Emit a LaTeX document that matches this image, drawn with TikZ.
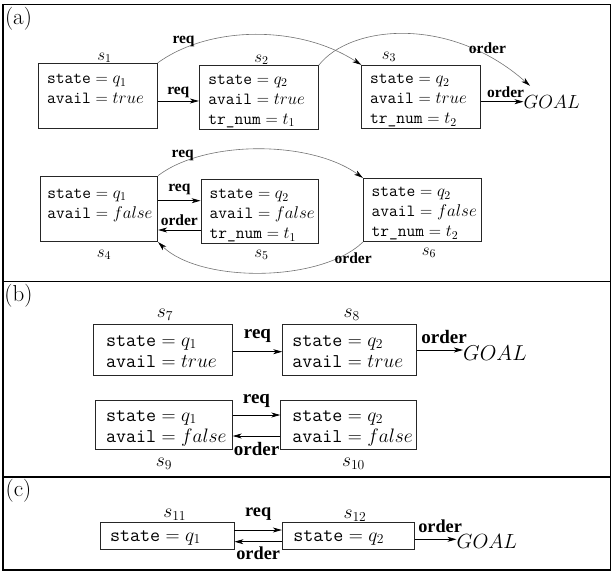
\RequirePackage{fix-cm}
\documentclass[tikz,border=0pt]{standalone}
\usepackage{fontspec}
\newfontfamily\lblfamily{Liberation Serif}
\usetikzlibrary{arrows.meta}
\newcommand{\tv}[1]{\hbox{\ttfamily #1}}
\newcommand{\cb}[4]{\parbox[c][#1][t]{#2}{\rule{0pt}{#3}#4}}
\tikzset{
  stbox/.style={draw=black!85, line width=0.8pt, inner sep=0pt, rectangle},
  fa/.style={font=\fontsize{17}{20}\selectfont},
  fb/.style={font=\fontsize{19.5}{21.6}\selectfont},
  arr/.style={line width=0.8pt, -{Stealth[length=9pt,width=5pt,inset=2.5pt]}},
  carr/.style={draw=black!55, line width=0.6pt, -{Stealth[length=9pt,width=5pt,inset=2.5pt,color=black]}},
  lbla/.style={font=\lblfamily\bfseries\fontsize{15.5}{18}\selectfont, inner sep=1pt},
  lblb/.style={font=\lblfamily\bfseries\fontsize{19}{22}\selectfont, inner sep=1pt},
  lblc/.style={font=\lblfamily\bfseries\fontsize{18.3}{21}\selectfont, inner sep=1pt},
  sname/.style={inner sep=0pt},
  frm/.style={line width=1.2pt},
  sec/.style={font=\fontsize{23}{27}\selectfont, inner sep=0pt},
  goal/.style={inner sep=0pt, anchor=west}
}
\begin{document}
\begin{tikzpicture}[x=1pt,y=-1pt]
\useasboundingbox (0,0) rectangle (612,572);
% frame
\draw[frm] (3,4.5) rectangle (610.5,570);
\draw[frm] (3,281.5) -- (610.5,281.5);
\draw[frm] (3,477) -- (610.5,477);
\node[sec] (la) at (18.5,19) {(a)};
\node[sec] (lb) at (18.5,296) {(b)};
\node[sec] (lc) at (18.5,491) {(c)};

% ---------- (a) ----------
\node[stbox, fa, minimum width=118.6pt, minimum height=65pt] (s1) at (98,95.8)
  {\cb{65pt}{101.6pt}{20.5pt}{\mbox{$\tv{state}=q_1$}\\\mbox{$\tv{avail}=true$}}};
\node[stbox, fa, minimum width=119pt, minimum height=63.3pt] (s2) at (258.8,97.35)
  {\cb{63.3pt}{101pt}{18.5pt}{\mbox{$\tv{state}=q_2$}\\\mbox{$\tv{avail}=true$}\\\mbox{$\tv{tr\_num}=t_1$}}};
\node[stbox, fa, minimum width=118.6pt, minimum height=62.7pt] (s3) at (421,96.65)
  {\cb{62.7pt}{101.6pt}{18.5pt}{\mbox{$\tv{state}=q_2$}\\\mbox{$\tv{avail}=true$}\\\mbox{$\tv{tr\_num}=t_2$}}};
\node[goal, font=\fontsize{19}{22}\selectfont] (ga) at (523.5,102) {$GOAL$};

\node[stbox, fa, minimum width=117.7pt, minimum height=65.7pt] (s4) at (98.85,208.85)
  {\cb{65.7pt}{103pt}{22pt}{\mbox{$\tv{state}=q_1$}\\\mbox{$\tv{avail}=false$}}};
\node[stbox, fa, minimum width=117pt, minimum height=64pt] (s5) at (259.5,211.3)
  {\cb{64pt}{100pt}{19.5pt}{\mbox{$\tv{state}=q_2$}\\\mbox{$\tv{avail}=false$}\\\mbox{$\tv{tr\_num}=t_1$}}};
\node[stbox, fa, minimum width=117.7pt, minimum height=63.4pt] (s6) at (422.15,210)
  {\cb{63.4pt}{101pt}{18.5pt}{\mbox{$\tv{state}=q_2$}\\\mbox{$\tv{avail}=false$}\\\mbox{$\tv{tr\_num}=t_2$}}};

\node[sname, fa] (n1) at (104.5,58) {$s_1$};
\node[sname, fa] (n2) at (261.5,60) {$s_2$};
\node[sname, fa] (n3) at (389,57) {$s_3$};
\node[sname, fa] (n4) at (104,255) {$s_4$};
\node[sname, fa] (n5) at (261.5,255) {$s_5$};
\node[sname, fa] (n6) at (429,252.7) {$s_6$};

\draw[arr] (s1.east |- 0,101) -- node[lbla, above=1.5pt] {req} (s2.west |- 0,101);
\draw[arr] (s3.east |- 0,101.7) -- node[lbla, above=2.5pt, xshift=3.5pt] {order} (ga.west |- 0,101.7);
\draw[carr] (s1.north east) .. controls (210,25) and (300,25) .. node[lbla, pos=0.15, above] {req} (s3.north west);
\draw[carr] (s2.north east) .. controls (350,25) and (450,15) .. node[lbla, pos=0.82, above, xshift=2pt] {order} ([xshift=6.5pt,yshift=9.5pt]ga.north west);

\draw[arr] (s4.east |- 0,200.7) -- node[lbla, above=4.5pt] {req} (s5.west |- 0,200.7);
\draw[arr] (s5.west |- 0,230) -- node[lbla, above=3pt] {order} (s4.east |- 0,230);
\draw[carr] (s4.north east) .. controls (205,140) and (310,140) .. node[lbla, pos=0.15, above] {req} (s6.north west);
\draw[carr] (s6.south west) .. controls (320,283) and (200,283) .. node[lbla, pos=0.08, below, xshift=2pt] {order} (s4.south east);

% ---------- (b) ----------
\node[stbox, fb, minimum width=139pt, minimum height=50.7pt] (s7) at (162.8,349.65)
  {\cb{50.7pt}{113.6pt}{21.7pt}{\mbox{$\tv{state}=q_1$}\\\mbox{$\tv{avail}=true$}}};
\node[stbox, fb, minimum width=134pt, minimum height=50.7pt] (s8) at (349.7,349.65)
  {\cb{50.7pt}{114.8pt}{21.7pt}{\mbox{$\tv{state}=q_2$}\\\mbox{$\tv{avail}=true$}}};
\node[goal, font=\fontsize{21.5}{25}\selectfont] (gb) at (463,352.7) {$GOAL$};
\node[stbox, fb, minimum width=137.3pt, minimum height=49.4pt] (s9) at (163.65,424.7)
  {\cb{49.4pt}{115.3pt}{21pt}{\mbox{$\tv{state}=q_1$}\\\mbox{$\tv{avail}=false$}}};
\node[stbox, fb, minimum width=136pt, minimum height=48.7pt] (s10) at (348.7,425.05)
  {\cb{48.7pt}{112.8pt}{20.3pt}{\mbox{$\tv{state}=q_2$}\\\mbox{$\tv{avail}=false$}}};

\node[sname, fb] (n7) at (165,315) {$s_7$};
\node[sname, fb] (n8) at (351.7,315) {$s_8$};
\node[sname, fb] (n9) at (164,463.6) {$s_9$};
\node[sname, fb] (n10) at (353.5,463.6) {$s_{10}$};

\draw[arr] (s7.east |- 0,351.7) -- node[lblb, above=8pt] {req} (s8.west |- 0,351.7);
\draw[arr] (s8.east |- 0,350) -- node[lblb, above=4.5pt, xshift=4pt] {order} (gb.west |- 0,350);
\draw[arr] (s9.east |- 0,415) -- node[lblb, above=6.5pt] {req} (s10.west |- 0,415);
\draw[arr] (s10.west |- 0,436) -- node[lblb, below=4.5pt] {order} (s9.east |- 0,436);

% ---------- (c) ----------
\node[stbox, fb, minimum width=133.3pt, minimum height=26.6pt] (s11) at (167.35,536)
  {\cb{26.6pt}{114.7pt}{18.3pt}{\mbox{$\tv{state}=q_1$}}};
\node[stbox, fb, minimum width=132pt, minimum height=26.6pt] (s12) at (348.3,536)
  {\cb{26.6pt}{110pt}{18.3pt}{\mbox{$\tv{state}=q_2$}}};
\node[goal, font=\fontsize{20.5}{24}\selectfont] (gc) at (456.5,541) {$GOAL$};
\node[sname, fb] (n11) at (174.7,515) {$s_{11}$};
\node[sname, fb] (n12) at (355,516) {$s_{12}$};

\draw[arr] (s11.east |- 0,530) -- node[lblc, above=8.5pt] {req} (s12.west |- 0,530);
\draw[arr] (s12.west |- 0,541.7) -- node[lblc, below=3.8pt] {order} (s11.east |- 0,541.7);
\draw[arr] (s12.east |- 0,539.3) -- node[lblc, above=5.4pt, xshift=4.5pt] {order} (gc.west |- 0,539.3);
\end{tikzpicture}
\end{document}
